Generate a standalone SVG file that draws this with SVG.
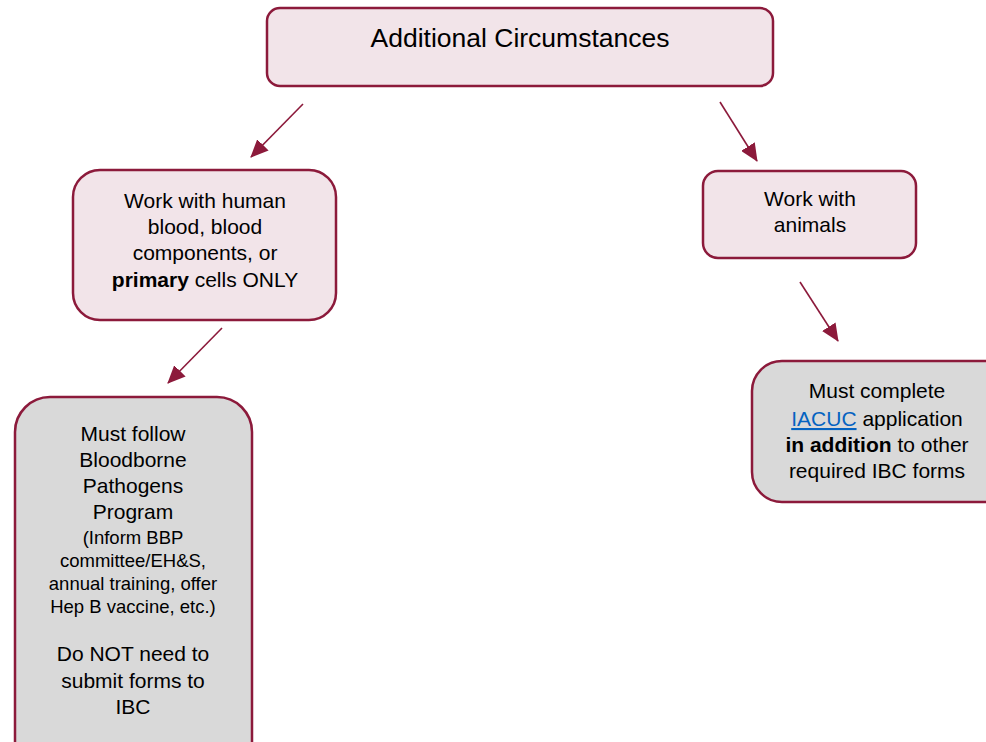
<svg xmlns="http://www.w3.org/2000/svg" width="986" height="742" viewBox="0 0 986 742">
<style>
.pink{fill:#F2E4E9;stroke:#8C1A3B;stroke-width:2.5}
.gray{fill:#D9D9D9;stroke:#8C1A3B;stroke-width:2.5}
text{font-family:"Liberation Sans",Arial,sans-serif;fill:#000;text-anchor:middle}
.t{font-size:21px}
.s{font-size:18.5px}
.h{font-size:26.5px}
.conn line{stroke:#8C1A3B;stroke-width:1.6;marker-end:url(#ah)}
</style>
<defs>
<marker id="ah" markerUnits="userSpaceOnUse" markerWidth="18" markerHeight="16" refX="17" refY="8" orient="auto">
<path d="M0,0 L18,8 L0,16 Z" fill="#8C1A3B"/>
</marker>
</defs>
<rect width="986" height="742" fill="#fff"/>
<g class="conn">
<line x1="303" y1="104" x2="251" y2="157"/>
<line x1="720" y1="102" x2="757" y2="161"/>
<line x1="222" y1="328" x2="168" y2="383"/>
<line x1="800" y1="282" x2="838" y2="341"/>
</g>
<g id="top">
<rect class="pink" x="267" y="8" width="506" height="78" rx="13"/>
<text class="h" x="520" y="47">Additional Circumstances</text>
</g>
<g id="human">
<rect class="pink" x="73" y="170" width="263" height="150" rx="27"/>
<text class="t" x="205" y="208">Work with human</text>
<text class="t" x="205" y="234">blood, blood</text>
<text class="t" x="205" y="260">components, or</text>
<text class="t" x="205" y="287"><tspan font-weight="bold">primary</tspan> cells ONLY</text>
</g>
<g id="animals">
<rect class="pink" x="703" y="171" width="213" height="87" rx="15"/>
<text class="t" x="810" y="206">Work with</text>
<text class="t" x="810" y="232">animals</text>
</g>
<g id="bbp">
<rect class="gray" x="15" y="397" width="237" height="380" rx="35"/>
<text class="t" x="133" y="441">Must follow</text>
<text class="t" x="133" y="467">Bloodborne</text>
<text class="t" x="133" y="493">Pathogens</text>
<text class="t" x="133" y="519">Program</text>
<text class="s" x="133" y="544">(Inform BBP</text>
<text class="s" x="133" y="567">committee/EH&amp;S,</text>
<text class="s" x="133" y="590">annual training, offer</text>
<text class="s" x="133" y="613">Hep B vaccine, etc.)</text>
<text class="t" x="133" y="661">Do NOT need to</text>
<text class="t" x="133" y="688">submit forms to</text>
<text class="t" x="133" y="714">IBC</text>
</g>
<g id="iacuc">
<rect class="gray" x="752" y="361" width="270" height="141" rx="30"/>
<text class="t" x="877" y="398">Must complete</text>
<text class="t" x="877" y="426"><tspan fill="#0563C1" text-decoration="underline">IACUC</tspan> application</text>
<text class="t" x="877" y="452"><tspan font-weight="bold">in addition</tspan> to other</text>
<text class="t" x="877" y="478">required IBC forms</text>
</g>
</svg>
